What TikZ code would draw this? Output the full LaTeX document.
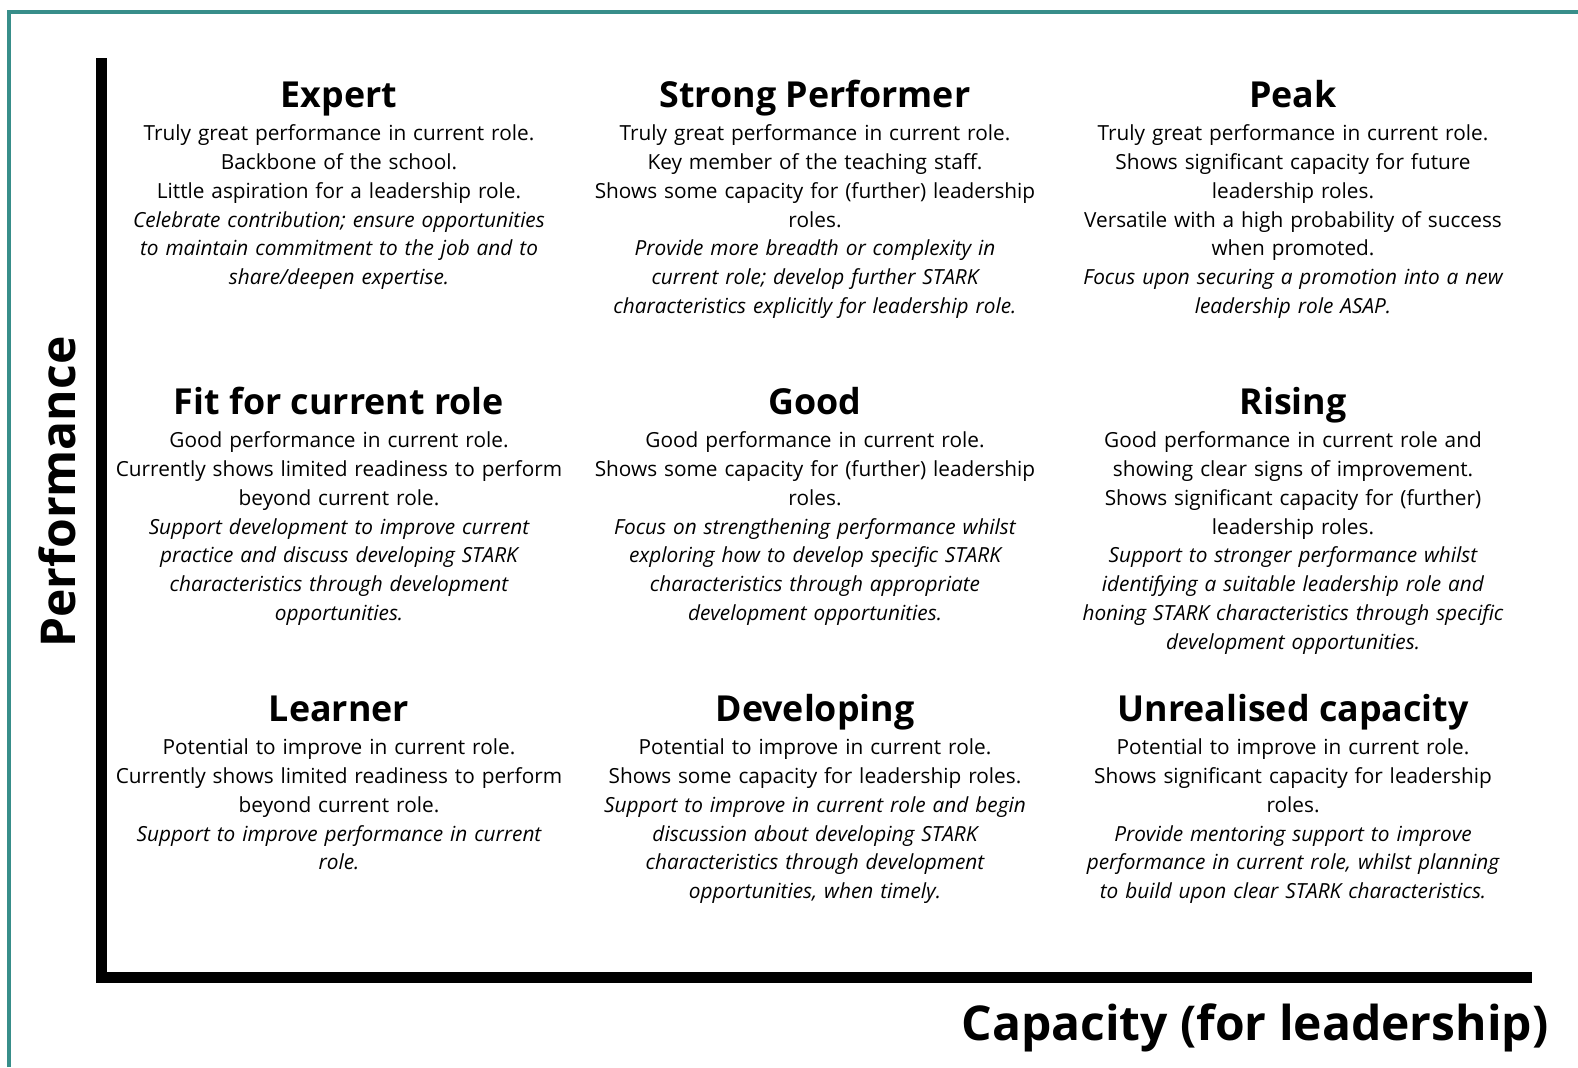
\documentclass[tikz,border=0pt]{standalone}
\usepackage{fontspec}
\setmainfont{Open Sans}
\usetikzlibrary{positioning}
\definecolor{frameteal}{RGB}{56,142,138}

\begin{document}
\begin{tikzpicture}[x=0.5pt,y=-0.5pt,
    head/.style={font=\fontsize{17.9}{20}\selectfont\bfseries, inner sep=0pt, text height=13pt, text depth=4pt, anchor=base},
    body/.style={font=\fontsize{10.4}{14.4}\selectfont, text width=230pt, align=center, inner sep=0pt, below=4.5pt of #1},
    axislabel/.style={font=\fontsize{24}{28}\selectfont\bfseries, inner sep=0pt},
    axis/.style={line width=5.5pt, line join=miter}]
    \useasboundingbox (0,0) rectangle (1578,1067);
    \draw[frameteal, line width=2pt] (9,1067) -- (9,12) -- (1578,12);
    \coordinate (ytop) at (101,58);
    \coordinate (origin) at (101,977);
    \coordinate (xend) at (1532,977);
    \draw[axis] (ytop) -- (origin) -- (xend);
    \node[axislabel, rotate=90] (perf) at (57,492) {Performance};
    \node[axislabel] (cap) at (1255,1028) {Capacity (for leadership)};

    \node[head] (expert) at (339,107) {Expert};
    \node[body=expert] (expertText) {Truly great performance in current role.\\
        Backbone of the school.\\
        Little aspiration for a leadership role.\\
        \itshape Celebrate contribution; ensure opportunities\\
        to maintain commitment to the job and to\\
        share/deepen expertise.};
    \node[head] (strong) at (815,107) {Strong Performer};
    \node[body=strong] (strongText) {Truly great performance in current role.\\
        Key member of the teaching staff.\\
        Shows some capacity for (further) leadership\\
        roles.\\
        \itshape Provide more breadth or complexity in\\
        current role; develop further STARK\\
        characteristics explicitly for leadership role.};
    \node[head] (peak) at (1293,107) {Peak};
    \node[body=peak] (peakText) {Truly great performance in current role.\\
        Shows significant capacity for future\\
        leadership roles.\\
        Versatile with a high probability of success\\
        when promoted.\\
        \itshape Focus upon securing a promotion into a new\\
        leadership role ASAP.};

    \node[head] (fit) at (339,414) {Fit for current role};
    \node[body=fit] (fitText) {Good performance in current role.\\
        Currently shows limited readiness to perform\\
        beyond current role.\\
        \itshape Support development to improve current\\
        practice and discuss developing STARK\\
        characteristics through development\\
        opportunities.};
    \node[head] (good) at (815,414) {Good};
    \node[body=good] (goodText) {Good performance in current role.\\
        Shows some capacity for (further) leadership\\
        roles.\\
        \itshape Focus on strengthening performance whilst\\
        exploring how to develop specific STARK\\
        characteristics through appropriate\\
        development opportunities.};
    \node[head] (rising) at (1293,414) {Rising};
    \node[body=rising] (risingText) {Good performance in current role and\\
        showing clear signs of improvement.\\
        Shows significant capacity for (further)\\
        leadership roles.\\
        \itshape Support to stronger performance whilst\\
        identifying a suitable leadership role and\\
        honing STARK characteristics through specific\\
        development opportunities.};

    \node[head] (learner) at (339,721) {Learner};
    \node[body=learner] (learnerText) {Potential to improve in current role.\\
        Currently shows limited readiness to perform\\
        beyond current role.\\
        \itshape Support to improve performance in current\\
        role.};
    \node[head] (developing) at (815,721) {Developing};
    \node[body=developing] (developingText) {Potential to improve in current role.\\
        Shows some capacity for leadership roles.\\
        \itshape Support to improve in current role and begin\\
        discussion about developing STARK\\
        characteristics through development\\
        opportunities, when timely.};
    \node[head] (unrealised) at (1293,721) {Unrealised capacity};
    \node[body=unrealised] (unrealisedText) {Potential to improve in current role.\\
        Shows significant capacity for leadership\\
        roles.\\
        \itshape Provide mentoring support to improve\\
        performance in current role, whilst planning\\
        to build upon clear STARK characteristics.};
\end{tikzpicture}
\end{document}
